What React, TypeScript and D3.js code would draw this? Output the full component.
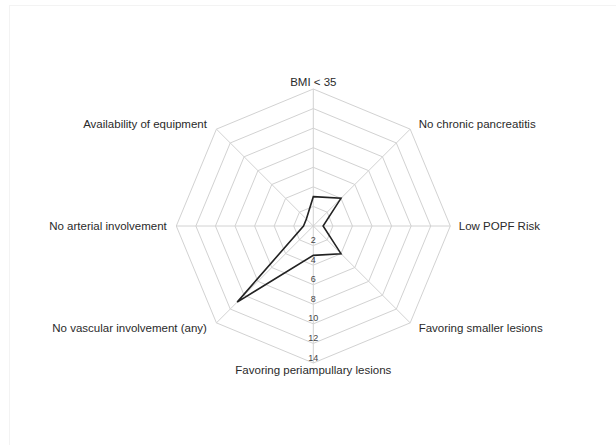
import * as d3 from "d3";

const axes = [
  "BMI < 35",
  "No chronic pancreatitis",
  "Low POPF Risk",
  "Favoring smaller lesions",
  "Favoring periampullary lesions",
  "No vascular involvement (any)",
  "No arterial involvement",
  "Availability of equipment",
];
const values = [3, 4, 1, 4, 3, 11, 1, 1];
const ticks = [2, 4, 6, 8, 10, 12, 14];

const W = 616;
const H = 445;
const cx = 313.3;
const cy = 226;
const R = 137;

export default function App() {
  const r = d3.scaleLinear().domain([0, 14]).range([0, R]);
  const angle = d3
    .scaleLinear()
    .domain([0, axes.length])
    .range([0, 2 * Math.PI]);

  const ring = (v: number) =>
    d3
      .lineRadial<string>()
      .angle((_, i) => angle(i))
      .radius(r(v))
      .curve(d3.curveLinearClosed)(axes) ?? "";

  const dataPath =
    d3
      .lineRadial<number>()
      .angle((_, i) => angle(i))
      .radius((d) => r(d))
      .curve(d3.curveLinearClosed)(values) ?? "";

  const font = "'Liberation Sans', Arial, Helvetica, sans-serif";

  return (
    <svg
      width={W}
      height={H}
      style={{ position: "absolute", left: 0, top: 0, background: "#fff" }}
    >
      <rect x={9.5} y={5.5} width={W} height={H} fill="none" stroke="#f3f3f3" />
      <g transform={`translate(${cx},${cy})`}>
        {ticks.map((t) => (
          <path key={t} d={ring(t)} fill="none" stroke="#d2d2d2" strokeWidth={1} />
        ))}
        {axes.map((a, i) => {
          const ang = angle(i);
          return (
            <line
              key={a}
              x1={0}
              y1={0}
              x2={r(14) * Math.sin(ang)}
              y2={-r(14) * Math.cos(ang)}
              stroke="#d2d2d2"
              strokeWidth={1}
            />
          );
        })}
        <path d={dataPath} fill="none" stroke="#222" strokeWidth={1.6} strokeLinejoin="miter" />
        {ticks.map((t) => (
          <text
            key={t}
            x={0}
            y={r(t) - 2.5}
            textAnchor="middle"
            fontFamily={font}
            fontSize={9}
            fill="#444"
          >
            {t}
          </text>
        ))}
        {axes.map((a, i) => {
          const ang = angle(i);
          const s = Math.sin(ang);
          const c = Math.cos(ang);
          const vx = r(14) * s;
          const vy = -r(14) * c;
          const anchor = Math.abs(s) < 0.01 ? "middle" : s > 0 ? "start" : "end";
          const x = vx + (Math.abs(s) < 0.01 ? 0 : s > 0 ? 8.5 : -9.5);
          const y = vy + 4.2 - 7 * c;
          return (
            <text
              key={a}
              x={x}
              y={y}
              textAnchor={anchor}
              fontFamily={font}
              fontSize={11.5}
              fill="#2a2a2a"
            >
              {a}
            </text>
          );
        })}
      </g>
    </svg>
  );
}
